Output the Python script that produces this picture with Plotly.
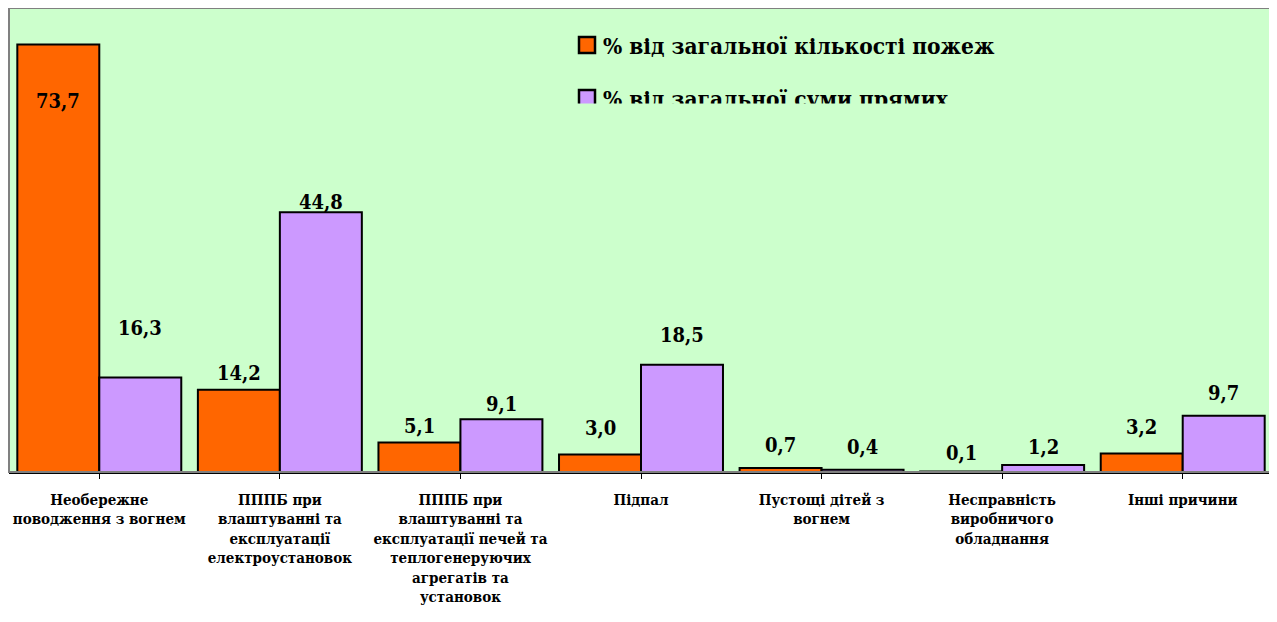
import plotly.graph_objects as go

categories = [
    "Необережне<br>поводження з вогнем",
    "ПППБ при<br>влаштуванні та<br>експлуатації<br>електроустановок",
    "ПППБ при<br>влаштуванні та<br>експлуатації печей та<br>теплогенеруючих<br>агрегатів та<br>установок",
    "Підпал",
    "Пустощі дітей з<br>вогнем",
    "Несправність<br>виробничого<br>обладнання",
    "Інші причини",
]
series_names = ["% від загальної кількості пожеж", "% від загальної суми прямих<br>збитків"]
fires_pct = [73.7, 14.2, 5.1, 3.0, 0.7, 0.1, 3.2]
losses_pct = [16.3, 44.8, 9.1, 18.5, 0.4, 1.2, 9.7]

# label vertical offsets in pixels (style)
fires_label_shift = [-56, 17, 16, 27, 23, 18, 26]
losses_label_shift = [49, 10, 15, 30, 23, 18, 23]

# page body has an 8px margin: figure is placed at (8, 8) in the window
OFF = 8
W, H = 1277 - OFF, 622 - OFF
ML, MT = 9 - OFF, 8 - OFF
MR = W - (1273 - OFF)
MB = H - (472 - OFF)
bargap = 0.092
colors = ["#FF6600", "#CC99FF"]
FONT = "DejaVu Serif Condensed, DejaVu Serif"

fig = go.Figure()
for name, vals, col in zip(series_names, [fires_pct, losses_pct], colors):
    fig.add_trace(go.Bar(
        x=list(range(len(categories))), y=vals, name=name.replace("<br>", " "),
        marker=dict(color=col, line=dict(color="black", width=2)),
        showlegend=False, hoverinfo="y",
    ))

half = (1 - bargap) / 4
annotations = []
for i in range(len(categories)):
    for vals, shifts, off in ((fires_pct, fires_label_shift, -half), (losses_pct, losses_label_shift, half)):
        annotations.append(dict(
            x=i + off, y=vals[i], xref="x", yref="y",
            text="<b>" + f"{vals[i]:.1f}".replace(".", ",") + "</b>",
            showarrow=False, yanchor="middle", yshift=shifts[i],
            font=dict(family=FONT, size=20, color="black"),
        ))

plot_w = W - ML - MR
plot_h = H - MT - MB
clip_bottom_px = 103.5
leg_x0_px, leg_x1_px = 560, 1150
fig.add_trace(go.Scatter(
    x=[587, 587], y=[45, 98], mode="markers",
    marker=dict(symbol="square", size=16, color=colors, line=dict(color="black", width=2.5)),
    xaxis="x2", yaxis="y2", showlegend=False, hoverinfo="skip", cliponaxis=True,
))
fig.add_trace(go.Scatter(
    x=[603, 603], y=[37, 90], mode="text", text=["<b>" + s + "</b>" for s in series_names],
    textposition="bottom right",
    textfont=dict(family=FONT, size=22.5, color="black"),
    xaxis="x2", yaxis="y2", showlegend=False, hoverinfo="skip", cliponaxis=True,
))

fig.update_layout(
    width=W, height=H,
    margin=dict(l=ML, r=MR, t=MT, b=MB, pad=0),
    paper_bgcolor="white", plot_bgcolor="#CCFFCC",
    barmode="group", bargap=bargap, bargroupgap=0,
    annotations=annotations,
    xaxis=dict(
        tickmode="array", tickvals=list(range(len(categories))),
        ticktext=["<b>" + c + "</b>" for c in categories],
        range=[-0.5, len(categories) - 0.5],
        showline=True, linecolor="black", linewidth=1.5,
        ticks="outside", tickson="boundaries", ticklen=5, tickcolor="black", tickwidth=1,
        tickfont=dict(family=FONT, size=15, color="black"),
        ticklabelstandoff=8, showgrid=False, zeroline=False, tickangle=0,
    ),
    yaxis=dict(range=[0, 80], visible=False, showgrid=False, zeroline=False),
    xaxis2=dict(
        domain=[(leg_x0_px - 9) / plot_w, (leg_x1_px - 9) / plot_w],
        range=[leg_x0_px, leg_x1_px], visible=False, anchor="y2",
    ),
    yaxis2=dict(
        domain=[(472 - clip_bottom_px) / plot_h, 1],
        range=[clip_bottom_px, 8], visible=False, anchor="x2",
    ),
    shapes=[dict(type="rect", xref="paper", yref="paper", x0=0, x1=1, y0=0, y1=1,
                 line=dict(color="#808080", width=2), layer="above")],
)

fig.write_html("out.html")
